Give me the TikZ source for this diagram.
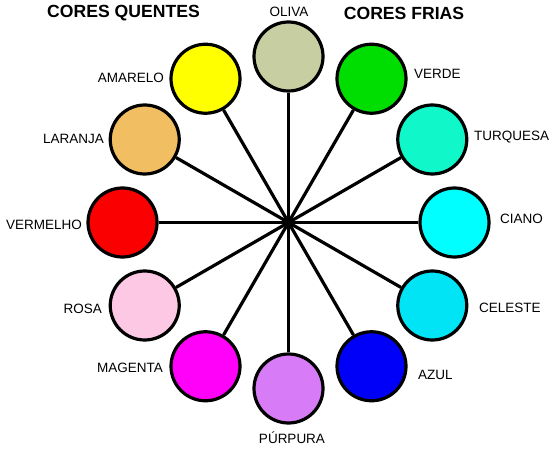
\documentclass[tikz,border=0pt]{standalone}
\usepackage{fontspec}
\setmainfont{Liberation Sans}
\usetikzlibrary{calc}
\definecolor{cOliva}{HTML}{C6CEA2}
\definecolor{cVerde}{HTML}{00DD00}
\definecolor{cTurq}{HTML}{10F8CA}
\definecolor{cCiano}{HTML}{00FFFF}
\definecolor{cCeleste}{HTML}{00E4F6}
\definecolor{cAzul}{HTML}{0000F8}
\definecolor{cPurpura}{HTML}{D77CF6}
\definecolor{cMagenta}{HTML}{FF00F8}
\definecolor{cRosa}{HTML}{FCC8E4}
\definecolor{cVermelho}{HTML}{FA0000}
\definecolor{cLaranja}{HTML}{F2BE62}
\definecolor{cAmarelo}{HTML}{FFFF00}
\begin{document}
\begin{tikzpicture}[x=1pt,y=1pt,
  ball/.style={circle,draw=black,line width=3.2pt,minimum size=69pt,inner sep=0pt},
  spoke/.style={line width=3.2pt,draw=black},
  lbl/.style={font=\fontsize{13.5}{15}\selectfont,inner sep=0pt},
  ttl/.style={font=\fontsize{17.6}{20}\bfseries\selectfont,inner sep=0pt}]
\useasboundingbox[fill=white] (0,0) rectangle (559,453);
\coordinate (c) at (288.5,230.5);
\foreach \name/\ang/\col in {oliva/90/cOliva,verde/60/cVerde,turq/30/cTurq,ciano/0/cCiano,celeste/-30/cCeleste,azul/-60/cAzul,purpura/-90/cPurpura,magenta/-120/cMagenta,rosa/-150/cRosa,vermelho/180/cVermelho,laranja/150/cLaranja,amarelo/120/cAmarelo}{
  \node[ball,fill=\col] (\name) at ($(c)+(\ang:166)$) {};
  \draw[spoke] (c) -- (\name);
}
\node[ttl] (tq) at (123.5,440) {CORES QUENTES};
\node[ttl] (tf) at (404,440) {CORES FRIAS};
\node[lbl] (loliva) at (289,441) {OLIVA};
\node[lbl,anchor=west] (lverde) at (414,379) {VERDE};
\node[lbl,anchor=west] (lturq) at (474,316) {TURQUESA};
\node[lbl,anchor=west] (lciano) at (500,234) {CIANO};
\node[lbl,anchor=west] (lceleste) at (479,145) {CELESTE};
\node[lbl,anchor=west] (lazul) at (418,78) {AZUL};
\node[lbl] (lpurpura) at (292,15) {PÚRPURA};
\node[lbl,anchor=east] (lmagenta) at (163,85) {MAGENTA};
\node[lbl,anchor=east] (lrosa) at (102,144) {ROSA};
\node[lbl,anchor=east] (lvermelho) at (82,228) {VERMELHO};
\node[lbl,anchor=east] (llaranja) at (104,314) {LARANJA};
\node[lbl,anchor=east] (lamarelo) at (164,375) {AMARELO};
\end{tikzpicture}
\end{document}
